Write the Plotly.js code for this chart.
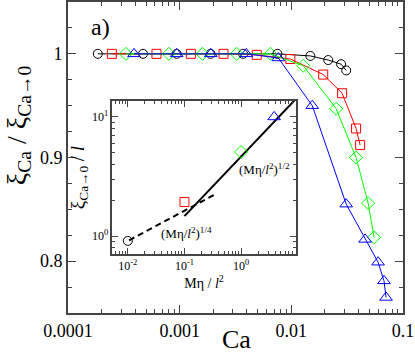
<!DOCTYPE html>
<html>
<head>
<meta charset="utf-8">
<script src="https://cdn.plot.ly/plotly-3.0.1.min.js"></script>
<style>
  html, body { margin: 0; padding: 0; background: #fff; }
  #plot { width: 415px; height: 353px; }
</style>
</head>
<body>
<div id="plot"></div>
<script>
// main panel: xi_Ca / xi_Ca->0 against Ca
var caCircle = [0.000185, 0.00047, 0.00094, 0.00189, 0.0037, 0.0075, 0.0148, 0.0214, 0.0279, 0.031];
var xiCircle = [1.0, 1.0, 1.0, 1.0, 1.0, 1.0, 0.998, 0.994, 0.990, 0.984];

var caSquare = [0.000247, 0.00062, 0.00126, 0.00247, 0.0049, 0.0098, 0.0193, 0.0285, 0.038, 0.0413];
var xiSquare = [1.0, 1.0, 1.0, 1.0, 0.999, 0.995, 0.980, 0.962, 0.928, 0.912];

var caDiamond = [0.00033, 0.0008, 0.0016, 0.00324, 0.0065, 0.0128, 0.0252, 0.038, 0.0487, 0.0551];
var xiDiamond = [1.0, 1.0, 1.0, 1.0, 1.0, 0.9885, 0.947, 0.900, 0.856, 0.823];

var caTriangle = [0.00039, 0.00094, 0.0019, 0.00395, 0.00765, 0.0154, 0.031, 0.0458, 0.0598, 0.0676, 0.0705];
var xiTriangle = [1.0, 1.0, 1.0, 1.0, 0.996, 0.950, 0.855, 0.821, 0.799, 0.781, 0.765];

// inset: xi_Ca->0 / l against M eta / l^2
var mInset = [0.01, 0.1, 1.0, 3.84];
var xiInset = [0.91, 1.93, 5.08, 10.0];

// power law guides
var halfX = [0.1, 10];
var halfY = [1.47, 14.7];
var quarterX = [0.0105, 0.355];
var quarterY = [0.92, 2.25];

var mainTicks = [0.0001, 0.001, 0.01, 0.1];
var mainTickText = ['0.0001', '0.001', '0.01', '0.1'];
var yTicks = [0.8, 0.9, 1.0];
var yTickText = ['0.8', '0.9', '1'];
var insetXTicks = [0.01, 0.1, 1];
var insetXText = ['10<sup>-2</sup>', '10<sup>-1</sup>', '10<sup>0</sup>'];
var insetYTicks = [1, 10];
var insetYText = ['10<sup>0</sup>', '10<sup>1</sup>'];

var colors = ['black', 'red', '#00ff00', 'blue'];
var symbols = ['circle-open', 'square-open', 'diamond-open', 'triangle-up-open'];
var sizes = [9, 9, 10, 11];

function series(x, y, i) {
    return {
        x: x, y: y,
        type: 'scatter',
        mode: 'lines+markers',
        line: {color: colors[i], width: 1},
        marker: {symbol: symbols[i], size: sizes[i], color: colors[i], line: {width: 1, color: colors[i]}},
        xaxis: 'x', yaxis: 'y',
        showlegend: false
    };
}

var data = [
    series(caCircle, xiCircle, 0),
    series(caSquare, xiSquare, 1),
    series(caDiamond, xiDiamond, 2),
    series(caTriangle, xiTriangle, 3),
    {
        x: halfX, y: halfY, type: 'scatter', mode: 'lines',
        line: {color: 'black', width: 2},
        xaxis: 'x2', yaxis: 'y2', showlegend: false
    },
    {
        x: quarterX, y: quarterY, type: 'scatter', mode: 'lines',
        line: {color: 'black', width: 2, dash: '6px,4px'},
        xaxis: 'x2', yaxis: 'y2', showlegend: false
    }
];

// one marker per inset point, same symbols as main panel
for (var i = 0; i < mInset.length; i++) {
    data.push({
        x: [mInset[i]], y: [xiInset[i]], type: 'scatter', mode: 'markers',
        marker: {symbol: symbols[i], size: sizes[i], color: colors[i], line: {width: 1, color: colors[i]}},
        xaxis: 'x2', yaxis: 'y2', showlegend: false
    });
}

var serif = 'Liberation Serif';

var layout = {
    width: 415,
    height: 353,
    margin: {l: 68, r: 12, t: 2, b: 40},
    paper_bgcolor: 'white',
    plot_bgcolor: 'white',
    font: {family: serif, size: 18, color: 'black'},
    xaxis: {
        type: 'log',
        range: [-4, -1],
        tickmode: 'array',
        tickvals: mainTicks,
        ticktext: mainTickText,
        tickfont: {family: serif, size: 18},
        ticks: 'inside',
        ticklen: 8,
        tickwidth: 1,
        minor: {ticks: 'inside', ticklen: 4, dtick: 'D1', tickwidth: 1},
        showline: true,
        linewidth: 2,
        mirror: 'allticks',
        showgrid: false,
        zeroline: false,
        domain: [0, 1],
        anchor: 'y'
    },
    yaxis: {
        range: [0.75, 1.05],
        tickmode: 'array',
        tickvals: yTicks,
        ticktext: yTickText,
        tickfont: {family: serif, size: 18},
        ticks: 'inside',
        ticklen: 8,
        tickwidth: 1,
        minor: {ticks: 'inside', ticklen: 4, dtick: 0.025, tick0: 0.75, tickwidth: 1},
        showline: true,
        linewidth: 2,
        mirror: 'allticks',
        showgrid: false,
        zeroline: false,
        domain: [0, 1],
        anchor: 'x'
    },
    xaxis2: {
        type: 'log',
        range: [-2.28, 0.97],
        tickmode: 'array',
        tickvals: insetXTicks,
        ticktext: insetXText,
        ticks: 'inside',
        ticklen: 6,
        minor: {ticks: 'inside', ticklen: 3, dtick: 'D1'},
        showline: true,
        linewidth: 1.5,
        mirror: 'allticks',
        showgrid: false,
        zeroline: false,
        tickfont: {family: serif, size: 12},
        title: {text: 'Mη / <i>l</i><sup>2</sup>', font: {family: serif, size: 14}, standoff: 4},
        domain: [0.1313, 0.6806],
        anchor: 'y2'
    },
    yaxis2: {
        type: 'log',
        range: [-0.151, 1.134],
        tickmode: 'array',
        tickvals: insetYTicks,
        ticktext: insetYText,
        ticks: 'inside',
        ticklen: 6,
        minor: {ticks: 'inside', ticklen: 3, dtick: 'D1'},
        showline: true,
        linewidth: 1.5,
        mirror: 'allticks',
        showgrid: false,
        zeroline: false,
        tickfont: {family: serif, size: 12},
        title: {text: 'ξ<sub>Ca→0</sub> / <i>l</i>', font: {family: serif, size: 19}, standoff: 2},
        domain: [0.1897, 0.6817],
        anchor: 'x2'
    },
    annotations: [
        {
            text: 'Ca', xref: 'paper', yref: 'paper', x: 0.5015, y: -0.085,
            showarrow: false, xanchor: 'center', yanchor: 'middle',
            font: {family: serif, size: 26}
        },
        {
            text: 'ξ<sub>Ca</sub> / ξ<sub>Ca→0</sub>', xref: 'paper', yref: 'paper',
            x: -0.148, y: 0.605, textangle: -90,
            showarrow: false, xanchor: 'center', yanchor: 'middle',
            font: {family: serif, size: 28}
        },
        {
            text: 'a)', xref: 'paper', yref: 'paper', x: 0.0985, y: 0.92,
            showarrow: false, xanchor: 'center', yanchor: 'middle',
            font: {family: serif, size: 24}
        },
        {
            text: '(Mη/<i>l</i><sup>2</sup>)<sup>1/2</sup>', xref: 'x2', yref: 'y2',
            x: 0.407, y: 0.563, showarrow: false,
            font: {family: serif, size: 13}
        },
        {
            text: '(Mη/<i>l</i><sup>2</sup>)<sup>1/4</sup>', xref: 'x2', yref: 'y2',
            x: -0.956, y: 0.025, showarrow: false,
            font: {family: serif, size: 13}
        }
    ]
};

Plotly.newPlot('plot', data, layout, {displayModeBar: false, staticPlot: true});
</script>
</body>
</html>
